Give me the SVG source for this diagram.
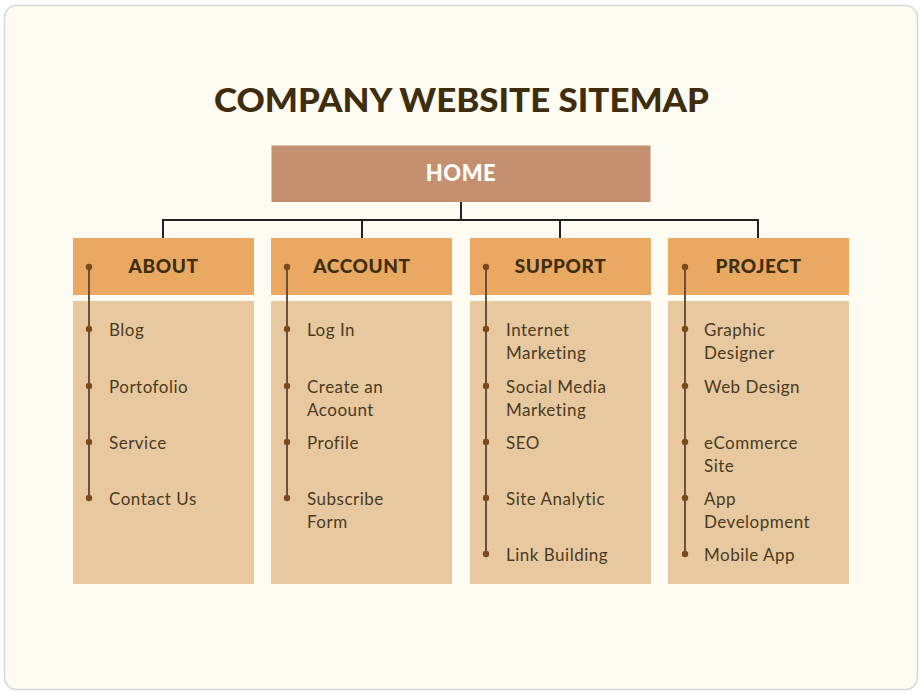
<svg xmlns="http://www.w3.org/2000/svg" width="924" height="697" viewBox="0 0 924 697">
<style>
.title{font-family:"Lato","Noto Sans",sans-serif;font-weight:900;font-size:33px;fill:#3F2E0E;}
.home{font-family:"Lato","Noto Sans",sans-serif;font-weight:900;font-size:22px;fill:#FFFFFF;letter-spacing:0.5px;}
.hdr{fill:#E9A963;}
.body{fill:#E8C99F;}
.htext{font-family:"Lato","Noto Sans",sans-serif;font-weight:900;font-size:19px;fill:#3F2E0E;letter-spacing:0.6px;}
.item{font-family:"Lato","Noto Sans",sans-serif;font-size:17px;fill:#4B3A22;letter-spacing:0.5px;}
.rail{stroke:#6B5038;stroke-width:2;fill:none;}
.dot{fill:#7A4A1E;}
.conn{stroke:#222222;stroke-width:2;fill:none;}
</style>
<rect x="0" y="0" width="924" height="697" fill="#FFFFFF"/>
<rect x="4.5" y="5.5" width="913" height="684" rx="12" fill="#FEFBF3" stroke="#D6D6DA" stroke-width="1.5"/>
<text class="title" x="461.5" y="112" text-anchor="middle" textLength="495" lengthAdjust="spacingAndGlyphs">COMPANY WEBSITE SITEMAP</text>

<g id="connectors">
<path class="conn" d="M461 202 V220 M163 220 H758 M163 219 V238 M362 219 V238 M560 219 V238 M758 219 V238"/>
</g>

<g id="home">
<rect x="271.5" y="145.5" width="379" height="56.5" fill="#C4906F"/>
<text class="home" x="461" y="181" text-anchor="middle">HOME</text>
</g>

<g id="about">
<rect class="hdr" x="73" y="238" width="181" height="57"/>
<rect class="body" x="73" y="301" width="181" height="283"/>
<text class="htext" x="163.5" y="273" text-anchor="middle">ABOUT</text>
<line class="rail" x1="89" y1="267" x2="89" y2="498"/>
<circle class="dot" cx="89" cy="267" r="3.2"/>
<circle class="dot" cx="89" cy="329" r="3.2"/>
<circle class="dot" cx="89" cy="386" r="3.2"/>
<circle class="dot" cx="89" cy="442" r="3.2"/>
<circle class="dot" cx="89" cy="498" r="3.2"/>
<text class="item" x="109" y="336">Blog</text>
<text class="item" x="109" y="393">Portofolio</text>
<text class="item" x="109" y="449">Service</text>
<text class="item" x="109" y="505">Contact Us</text>
</g>

<g id="account">
<rect class="hdr" x="271" y="238" width="181" height="57"/>
<rect class="body" x="271" y="301" width="181" height="283"/>
<text class="htext" x="362" y="273" text-anchor="middle">ACCOUNT</text>
<line class="rail" x1="287" y1="267" x2="287" y2="498"/>
<circle class="dot" cx="287" cy="267" r="3.2"/>
<circle class="dot" cx="287" cy="329" r="3.2"/>
<circle class="dot" cx="287" cy="386" r="3.2"/>
<circle class="dot" cx="287" cy="442" r="3.2"/>
<circle class="dot" cx="287" cy="498" r="3.2"/>
<text class="item" x="307" y="336">Log In</text>
<text class="item" x="307" y="393">Create an</text>
<text class="item" x="307" y="416">Acoount</text>
<text class="item" x="307" y="449">Profile</text>
<text class="item" x="307" y="505">Subscribe</text>
<text class="item" x="307" y="528">Form</text>
</g>

<g id="support">
<rect class="hdr" x="470" y="238" width="181" height="57"/>
<rect class="body" x="470" y="301" width="181" height="283"/>
<text class="htext" x="560.5" y="273" text-anchor="middle">SUPPORT</text>
<line class="rail" x1="486" y1="267" x2="486" y2="554"/>
<circle class="dot" cx="486" cy="267" r="3.2"/>
<circle class="dot" cx="486" cy="329" r="3.2"/>
<circle class="dot" cx="486" cy="386" r="3.2"/>
<circle class="dot" cx="486" cy="442" r="3.2"/>
<circle class="dot" cx="486" cy="498" r="3.2"/>
<circle class="dot" cx="486" cy="554" r="3.2"/>
<text class="item" x="506" y="336">Internet</text>
<text class="item" x="506" y="359">Marketing</text>
<text class="item" x="506" y="393">Social Media</text>
<text class="item" x="506" y="416">Marketing</text>
<text class="item" x="506" y="449">SEO</text>
<text class="item" x="506" y="505">Site Analytic</text>
<text class="item" x="506" y="561">Link Building</text>
</g>

<g id="project">
<rect class="hdr" x="668" y="238" width="181" height="57"/>
<rect class="body" x="668" y="301" width="181" height="283"/>
<text class="htext" x="758.5" y="273" text-anchor="middle">PROJECT</text>
<line class="rail" x1="685" y1="267" x2="685" y2="554"/>
<circle class="dot" cx="685" cy="267" r="3.2"/>
<circle class="dot" cx="685" cy="329" r="3.2"/>
<circle class="dot" cx="685" cy="386" r="3.2"/>
<circle class="dot" cx="685" cy="442" r="3.2"/>
<circle class="dot" cx="685" cy="498" r="3.2"/>
<circle class="dot" cx="685" cy="554" r="3.2"/>
<text class="item" x="704" y="336">Graphic</text>
<text class="item" x="704" y="359">Designer</text>
<text class="item" x="704" y="393">Web Design</text>
<text class="item" x="704" y="449">eCommerce</text>
<text class="item" x="704" y="472">Site</text>
<text class="item" x="704" y="505">App</text>
<text class="item" x="704" y="528">Development</text>
<text class="item" x="704" y="561">Mobile App</text>
</g>
</svg>
